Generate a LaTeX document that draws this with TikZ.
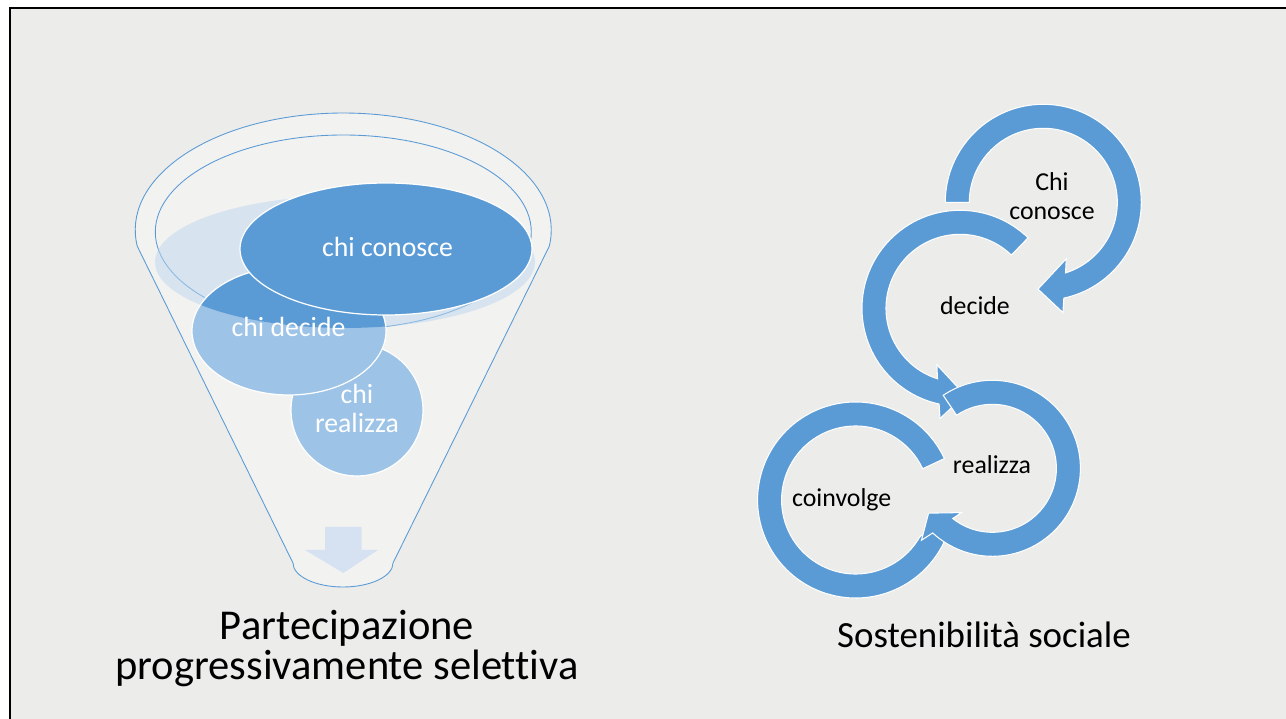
\documentclass[tikz,border=0pt]{standalone}
\usepackage{fontspec}
\setmainfont{Carlito}[Ligatures=NoCommon]
\definecolor{paper}{RGB}{236,236,234}
\definecolor{accent}{HTML}{5B9BD5}
\definecolor{lightacc}{HTML}{9DC3E6}
\definecolor{mouth}{HTML}{BDD7EE}
\definecolor{drop}{RGB}{214,226,242}
\tikzset{
  ring/.style={fill=accent, draw=white, line width=0.6pt},
  item/.style={draw=white, line width=0.7pt},
  itemlabel/.style={text=white, font=\fontsize{15.8}{17}\selectfont, align=center, anchor=base},
  ringlabel/.style={font=\fontsize{14.7}{16.2}\selectfont, align=center, anchor=base},
  caption/.style={font=\fontsize{24.2}{23.2}\selectfont, align=center, anchor=base}
}
\begin{document}
\begin{tikzpicture}[x=0.02cm,y=-0.02cm]
  \useasboundingbox (0,0) rectangle (1286,719);
  \fill[white] (0,0) rectangle (1286,719);
  \fill[paper] (10,8) rectangle (1286,719);
  \draw[line width=1.3pt] (10,719) -- (10,8) -- (1286,8);

  % funnel
  \path[fill=white, fill opacity=0.35, draw=accent, line width=0.5pt]
    (293,563) -- (137.3,246.3) arc[start angle=172, end angle=368, x radius=208, y radius=117]
    -- (393,563) arc[start angle=0, end angle=180, x radius=50, y radius=24] -- cycle;
  \draw[accent, line width=0.5pt] (343.3,232) ellipse[x radius=188, y radius=97];

  \fill[lightacc, item] (357,410) circle[radius=66];
  \fill[lightacc, item] (289,331) ellipse[x radius=97, y radius=64];
  \fill[mouth, opacity=0.5] (345,262) ellipse[x radius=190, y radius=66];
  \begin{scope}
    \clip (345,262) ellipse[x radius=190, y radius=66];
    \fill[accent, item] (289,331) ellipse[x radius=97, y radius=64];
  \end{scope}
  \fill[accent, item] (386,249) ellipse[x radius=146, y radius=66];
  \fill[drop] (325,527) -- (361.7,527) -- (361.7,550) -- (378,550) -- (343.3,573)
    -- (305,550) -- (325,550) -- cycle;

  \node[itemlabel] (chiconosce) at (387.5,256.7) {chi conosce};
  \node[itemlabel] (chidecide) at (288.5,336.7) {chi decide};
  \node[itemlabel] (chirealizza) at (357,433) {chi\\realizza};

  % cycle
  \begin{scope}[shift={(1043.3,202.3)}]
    \path[ring] (180:98) arc[start angle=180, end angle=437.9, radius=98] -- (439.9:112)
      -- (453.5:87) -- (427.9:61) -- (432.5:74) arc[start angle=432.5, end angle=180, radius=74] -- cycle;
  \end{scope}
  \begin{scope}[shift={(960,308.3)}]
    \path[ring] (314:98) arc[start angle=314, end angle=102.3, radius=98] -- (100.3:112)
      -- (86.7:87) -- (112.3:61) -- (107.7:74) arc[start angle=107.7, end angle=314, radius=74] -- cycle;
  \end{scope}
  \begin{scope}[shift={(855.6,500)}]
    \path[ring] (335:98) arc[start angle=335, end angle=26, radius=98]
      -- (14:86) -- (30:74) arc[start angle=30, end angle=335, radius=74] -- cycle;
  \end{scope}
  \begin{scope}[shift={(992.4,468.3)}]
    \path[ring] (236:88) arc[start angle=236, end angle=492.7, radius=88] -- (494.6:101)
      -- (504.9:78) -- (484.9:54) -- (488.3:64) arc[start angle=488.3, end angle=236, radius=64] -- cycle;
  \end{scope}

  \node[ringlabel] (conosce) at (1052,219.3) {Chi\\conosce};
  \node[ringlabel] (decide) at (975,315) {decide};
  \node[ringlabel] (realizza) at (992,473.3) {realizza};
  \node[ringlabel] (coinvolge) at (841.7,506.7) {coinvolge};

  \node[caption] (funnelcap) at (347,680) {Partecipazione\\progressivamente selettiva};
  \node[caption, font=\fontsize{21}{23.2}\selectfont] (cyclecap) at (984,648) {Sostenibilità sociale};
\end{tikzpicture}
\end{document}
